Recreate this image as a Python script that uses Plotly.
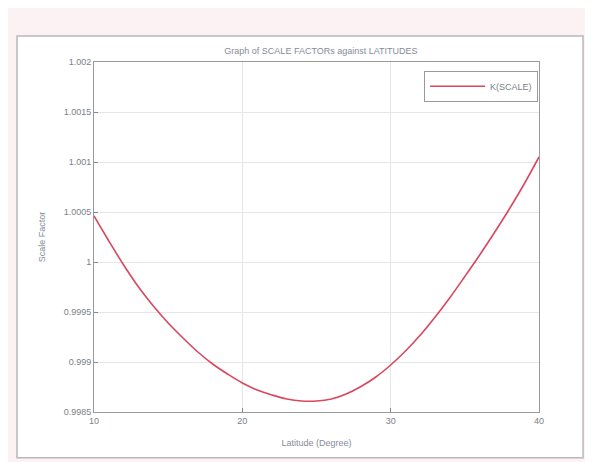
import plotly.graph_objects as go

latitude = list(range(10, 41))
scale_factor = [
    1.00046, 1.00021, 0.99997, 0.99975, 0.99956, 0.99939, 0.99924, 0.99910,
    0.99898, 0.99888, 0.99879, 0.99872, 0.99867, 0.99863, 0.99861, 0.99861,
    0.99863, 0.99868, 0.998755, 0.99885, 0.99897, 0.99911, 0.99927, 0.99945,
    0.999645, 0.999855, 1.00007, 1.000295, 1.00053, 1.00078, 1.00105,
]
x_ticks = [10, 20, 30, 40]
y_ticks = [0.9985, 0.999, 0.9995, 1.0, 1.0005, 1.001, 1.0015, 1.002]
y_tick_labels = ["0.9985", "0.999", "0.9995", "1", "1.0005", "1.001", "1.0015", "1.002"]

fig = go.Figure()
fig.add_trace(go.Scatter(
    x=latitude, y=scale_factor, mode="lines", name="K(SCALE)",
    line=dict(color="#d9475f", width=1.6, shape="spline"),
))

font_color = "#7a7f88"
fig.update_layout(
    width=585, height=454,
    paper_bgcolor="#fcf1f3",
    plot_bgcolor="white",
    margin=dict(l=86, r=54, t=54, b=50),
    font=dict(family="Liberation Sans, Arial", size=9, color=font_color),
    title=dict(text="Graph of SCALE FACTORs against LATITUDES", x=0.535, xanchor="center",
               y=0.905, yanchor="middle", font=dict(size=9, color="#858c99")),
    showlegend=True,
    legend=dict(x=0.998, y=0.975, xanchor="right", yanchor="top",
                bgcolor="white", bordercolor="#9a9a9a", borderwidth=1,
                itemwidth=55, font=dict(size=9, color="#7a7f88")),
    shapes=[dict(type="rect", xref="paper", yref="paper",
                 x0=-0.173, x1=1.099, y0=-0.131, y1=1.074,
                 line=dict(color="#b8b8bc", width=1.5), fillcolor="white", layer="below")],
)
fig.update_xaxes(
    range=[10, 40], tickvals=x_ticks, ticks="inside", ticklen=4, tickcolor="#888",
    tickfont=dict(size=9),
    showgrid=True, gridcolor="#e6e6e8", showline=True, linecolor="#9a9a9a", mirror=True,
    zeroline=False, title=dict(text="Latitude (Degree)", standoff=14, font=dict(size=9, color="#858c99")),
)
fig.update_yaxes(
    range=[0.9985, 1.002], tickvals=y_ticks, ticktext=y_tick_labels, ticks="inside", ticklen=4,
    tickfont=dict(size=9),
    tickcolor="#888", showgrid=True, gridcolor="#e6e6e8", showline=True, linecolor="#9a9a9a",
    mirror=True, zeroline=False,
    title=dict(text="Scale Factor", standoff=16, font=dict(size=9, color="#858c99")),
)
fig.write_html("out.html")
